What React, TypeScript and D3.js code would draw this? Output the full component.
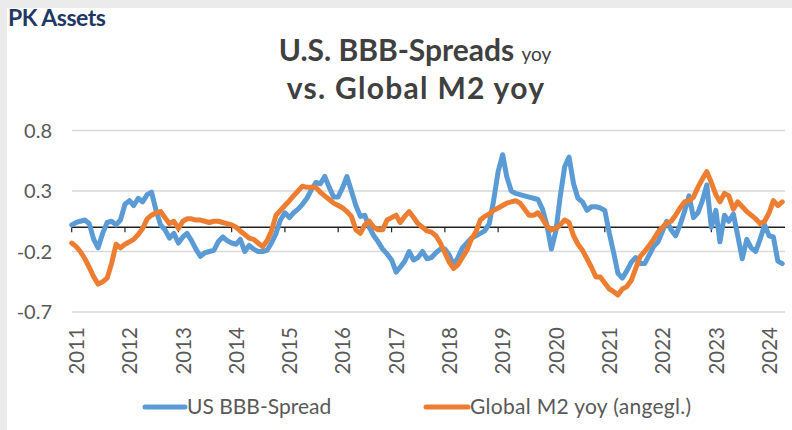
import React from "react";
import * as d3 from "d3";

const yearLabels = ["2011","2012","2013","2014","2015","2016","2017","2018","2019","2020","2021","2022","2023","2024"];
const yTicks = [0.8, 0.3, -0.2, -0.7];
const seriesNames = ["US BBB-Spread", "Global M2 yoy (angegl.)"];

// monthly values starting Jan 2011
const bbbSpread = [
  0.02,0.04,0.05,0.06,0.03,-0.1,-0.17,-0.05,0.04,0.05,0.02,0.06,
  0.19,0.22,0.18,0.24,0.21,0.27,0.29,0.14,0.02,-0.02,-0.09,-0.05,
  -0.13,-0.08,-0.05,-0.11,-0.18,-0.24,-0.21,-0.2,-0.19,-0.12,-0.08,-0.11,
  -0.13,-0.14,-0.1,-0.2,-0.15,-0.18,-0.2,-0.2,-0.19,-0.13,-0.05,0.06,
  0.12,0.08,0.12,0.15,0.19,0.24,0.31,0.37,0.36,0.42,0.33,0.25,
  0.25,0.33,0.42,0.3,0.18,0.09,0.1,0.0,-0.07,-0.12,-0.18,-0.22,
  -0.27,-0.37,-0.33,-0.28,-0.2,-0.27,-0.25,-0.2,-0.26,-0.25,-0.21,-0.18,
  -0.18,-0.23,-0.31,-0.25,-0.17,-0.13,-0.09,-0.07,-0.05,-0.03,0.03,0.22,
  0.46,0.6,0.42,0.3,0.28,0.27,0.26,0.25,0.24,0.23,0.15,0.02,
  -0.18,-0.03,0.25,0.5,0.58,0.36,0.24,0.21,0.14,0.17,0.17,0.16,
  0.14,-0.05,-0.2,-0.38,-0.42,-0.36,-0.29,-0.25,-0.3,-0.3,-0.23,-0.16,
  -0.12,-0.03,0.05,-0.02,-0.07,0.02,0.13,0.26,0.08,0.12,0.22,0.35,
  0.0,0.14,-0.12,0.1,0.05,0.11,-0.07,-0.26,-0.1,-0.17,-0.2,-0.1,
  0.02,-0.07,-0.08,-0.28,-0.3
];

const globalM2 = [
  -0.13,-0.16,-0.2,-0.26,-0.33,-0.41,-0.47,-0.45,-0.42,-0.3,-0.14,-0.17,
  -0.14,-0.12,-0.1,-0.06,-0.01,0.07,0.1,0.12,0.13,0.08,0.03,0.05,
  -0.01,0.05,0.07,0.07,0.06,0.06,0.05,0.04,0.05,0.05,0.04,0.03,
  0.02,0.0,-0.03,-0.06,-0.09,-0.1,-0.13,-0.16,-0.11,-0.03,0.1,0.14,
  0.18,0.22,0.26,0.3,0.34,0.33,0.33,0.33,0.29,0.26,0.23,0.2,
  0.18,0.16,0.13,0.09,-0.02,-0.05,0.02,0.05,0.0,-0.02,-0.02,0.06,
  0.08,0.1,0.04,0.09,0.13,0.08,0.03,0.0,-0.03,-0.04,-0.07,-0.13,
  -0.21,-0.29,-0.34,-0.31,-0.25,-0.19,-0.1,-0.04,0.06,0.09,0.11,0.14,
  0.16,0.18,0.2,0.21,0.22,0.2,0.15,0.1,0.1,0.12,0.07,0.01,
  -0.02,-0.01,0.02,0.06,0.04,-0.07,-0.14,-0.19,-0.26,-0.33,-0.41,-0.41,
  -0.46,-0.51,-0.53,-0.56,-0.51,-0.49,-0.44,-0.34,-0.24,-0.2,-0.15,-0.1,
  -0.04,0.0,0.035,0.05,0.1,0.16,0.21,0.22,0.25,0.33,0.4,0.46,
  0.37,0.27,0.21,0.28,0.26,0.15,0.21,0.17,0.13,0.1,0.07,0.03,
  0.05,0.12,0.22,0.18,0.21
];

const BLUE = "#5B9BD5";
const ORANGE = "#ED7D31";
const FONT = "Lato, 'Open Sans', sans-serif";

export default function App() {
  const W = 792, H = 430;
  const start = new Date(2011, 0, 1);
  const x = d3.scaleTime().domain([new Date(2011, 0, 1), new Date(2024, 0, 1)]).range([71.7, 764.6]);
  const y = d3.scaleLinear().domain([-0.7, 0.8]).range([312, 130.5]);
  const date = (i: number) => d3.timeMonth.offset(start, i);
  const line = d3.line<number>().x((_, i) => x(date(i))).y((d) => y(d));
  const plotLeft = 72, plotRight = 785;
  const yearTicks = yearLabels.map((s) => new Date(+s, 0, 1));

  return (
    <div style={{ position: "fixed", left: 0, top: 0 }}>
      <svg width={W} height={H} style={{ display: "block" }}>
        <rect x={0} y={0} width={W} height={H} fill="#ebebeb" />
        <rect x={7} y={8} width={W - 7} height={H - 8} fill="#ffffff" />
        <text x={8} y={26} fontFamily={FONT} fontWeight={700} fontSize={23} fill="#1F3864" letterSpacing={-0.5}>PK Assets</text>
        <text x={415} y={61} textAnchor="middle" fontFamily={FONT} fontWeight={700} fontSize={30} fill="#404040">
          U.S. BBB-Spreads <tspan fontSize={19} fontWeight={400}>yoy</tspan>
        </text>
        <text x={416} y={99} textAnchor="middle" fontFamily={FONT} fontWeight={700} fontSize={30} letterSpacing={1.3} fill="#404040">vs. Global M2 yoy</text>

        {yTicks.map((t) => (
          <g key={t}>
            <line x1={plotLeft} x2={plotRight} y1={y(t)} y2={y(t)} stroke="#d9d9d9" strokeWidth={1.5} />
            <text x={52} y={y(t)} dy="0.35em" textAnchor="end" fontFamily={FONT} fontSize={20} fill="#595959">
              {t.toFixed(1)}
            </text>
          </g>
        ))}

        <line x1={plotLeft} x2={plotRight} y1={y(0)} y2={y(0)} stroke="#222" strokeWidth={1.5} />
        {yearTicks.map((d, i) => (
          <line key={"t" + i} x1={x(d)} x2={x(d)} y1={y(0)} y2={y(0) + 5} stroke="#222" strokeWidth={1.2} />
        ))}

        {yearTicks.map((d, i) => (
          <text
            key={"l" + i}
            transform={`translate(${x(d) + 5},${327}) rotate(-90)`}
            dy="0.35em"
            textAnchor="end"
            fontFamily={FONT}
            fontSize={20.5}
            fill="#595959"
          >
            {yearLabels[i]}
          </text>
        ))}

        <path d={line(bbbSpread) || ""} fill="none" stroke={BLUE} strokeWidth={5} strokeLinejoin="round" strokeLinecap="round" />
        <path d={line(globalM2) || ""} fill="none" stroke={ORANGE} strokeWidth={5} strokeLinejoin="round" strokeLinecap="round" />

        <line x1={145} x2={185} y1={407} y2={407} stroke={BLUE} strokeWidth={5} strokeLinecap="round" />
        <text x={187} y={407} dy="0.35em" fontFamily={FONT} fontSize={21} fill="#595959">{seriesNames[0]}</text>
        <line x1={426} x2={468} y1={407} y2={407} stroke={ORANGE} strokeWidth={5} strokeLinecap="round" />
        <text x={470} y={407} dy="0.35em" fontFamily={FONT} fontSize={21} letterSpacing={0.3} fill="#595959">{seriesNames[1]}</text>
      </svg>
    </div>
  );
}
